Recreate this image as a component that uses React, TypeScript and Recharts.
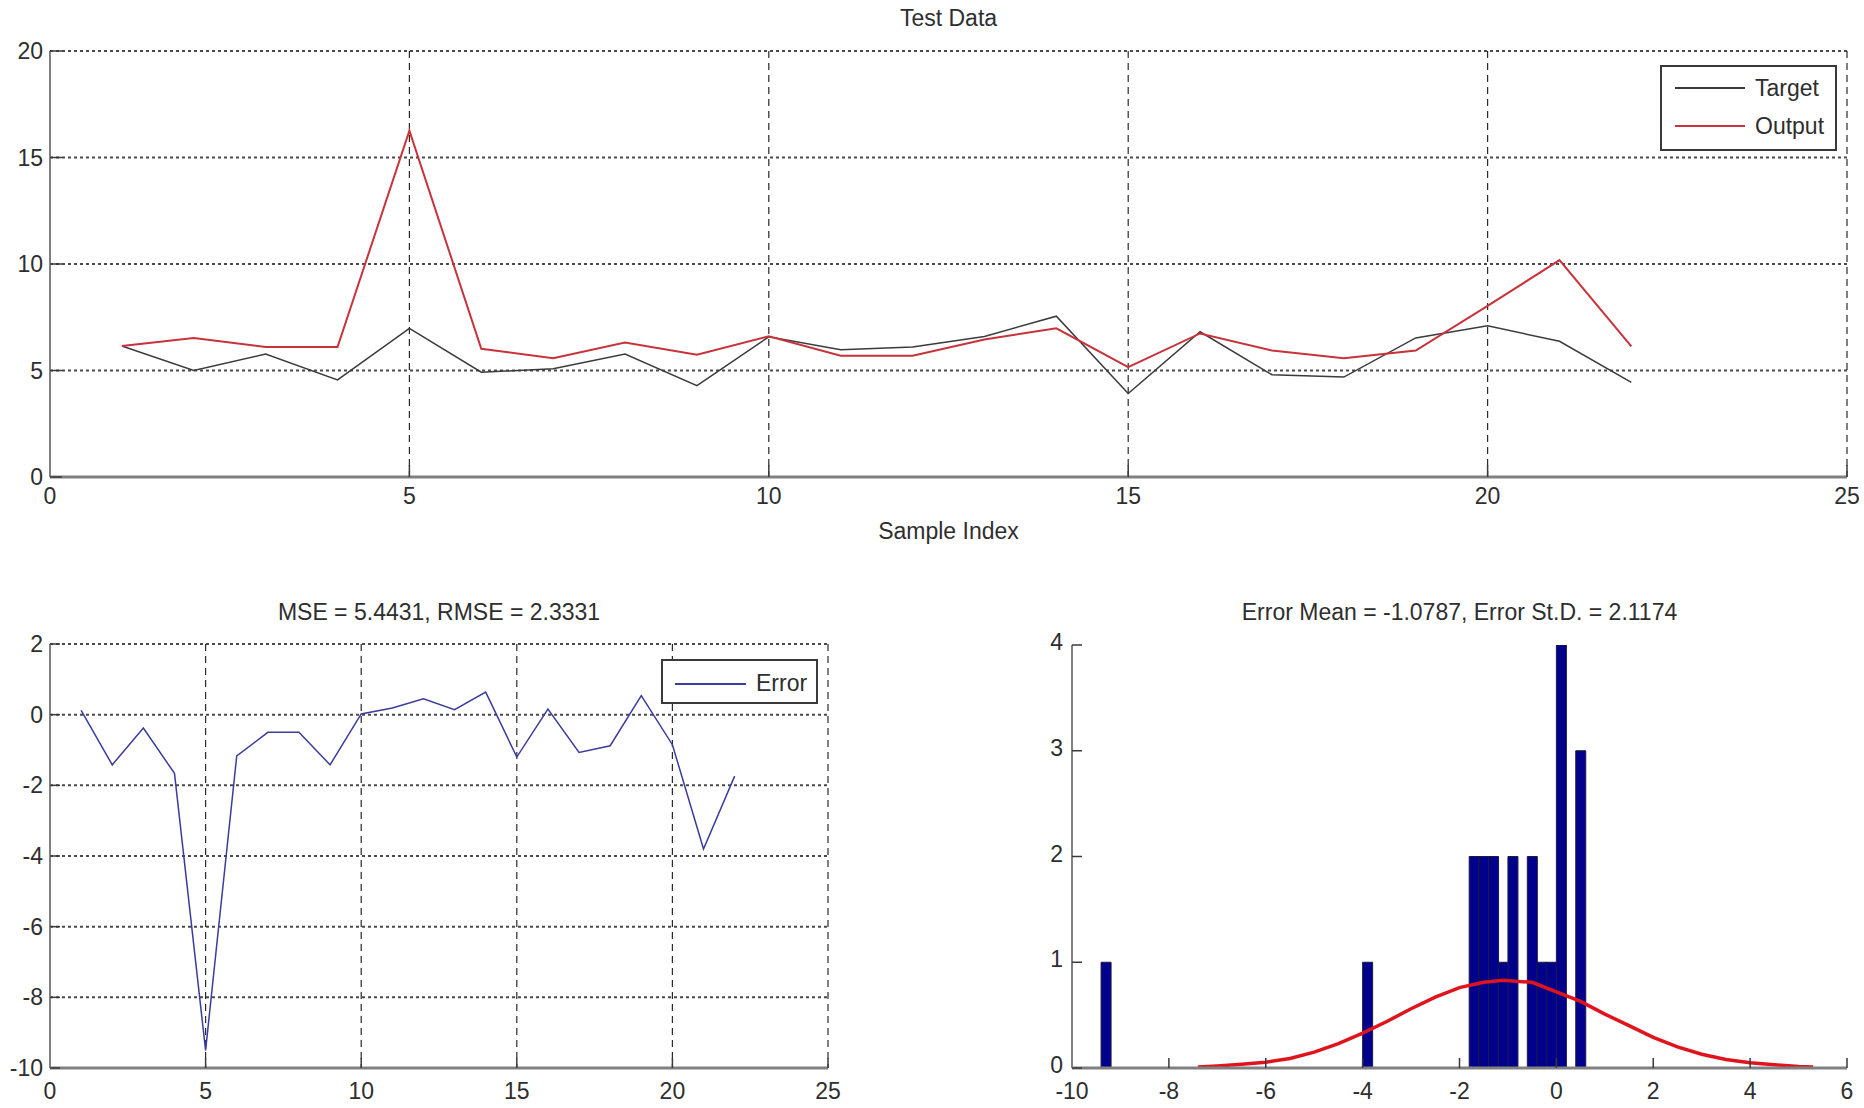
import React from 'react';
import {
  LineChart, Line, ComposedChart, Bar, XAxis, YAxis, CartesianGrid, Legend, Label,
} from 'recharts';

// ---- values ----
const sampleIndex = [1, 2, 3, 4, 5, 6, 7, 8, 9, 10, 11, 12, 13, 14, 15, 16, 17, 18, 19, 20, 21, 22];
const targetValues = [6.15, 5.0, 5.77, 4.56, 6.98, 4.92, 5.08, 5.77, 4.29, 6.58, 5.97, 6.1, 6.6, 7.55, 3.92, 6.82, 4.8, 4.69, 6.53, 7.1, 6.37, 4.44];
const outputValues = [6.15, 6.53, 6.1, 6.1, 16.26, 6.02, 5.58, 6.31, 5.74, 6.61, 5.69, 5.69, 6.46, 6.98, 5.16, 6.74, 5.94, 5.58, 5.94, 8.03, 10.18, 6.13];
const errorValues = [0.12, -1.42, -0.38, -1.66, -9.5, -1.17, -0.5, -0.5, -1.42, 0.02, 0.19, 0.45, 0.14, 0.64, -1.2, 0.16, -1.07, -0.88, 0.54, -0.85, -3.8, -1.74];

// histogram (50 bins)
const binCenters = [
  -9.3, -9.1, -8.9, -8.7, -8.5, -8.3, -8.1, -7.9, -7.7, -7.5,
  -7.3, -7.1, -6.9, -6.7, -6.5, -6.3, -6.1, -5.9, -5.7, -5.5,
  -5.3, -5.1, -4.9, -4.7, -4.5, -4.3, -4.1, -3.9, -3.7, -3.5,
  -3.3, -3.1, -2.9, -2.7, -2.5, -2.3, -2.1, -1.9, -1.7, -1.5,
  -1.3, -1.1, -0.9, -0.7, -0.5, -0.3, -0.1, 0.1, 0.3, 0.5,
];
const binCounts = [
  1, 0, 0, 0, 0, 0, 0, 0, 0, 0,
  0, 0, 0, 0, 0, 0, 0, 0, 0, 0,
  0, 0, 0, 0, 0, 0, 0, 1, 0, 0,
  0, 0, 0, 0, 0, 0, 0, 0, 2, 2,
  2, 1, 2, 0, 2, 1, 1, 4, 0, 3,
];

// fitted normal curve, read point by point
const fitX = [-7.4, -7, -6.5, -6, -5.5, -5, -4.5, -4, -3.5, -3, -2.5, -2, -1.5, -1.1, -0.5, 0, 0.5, 1, 1.5, 2, 2.5, 3, 3.5, 4, 4.5, 5, 5.3];
const fitY = [0.01, 0.02, 0.035, 0.055, 0.09, 0.15, 0.23, 0.33, 0.44, 0.56, 0.67, 0.76, 0.81, 0.83, 0.81, 0.72, 0.63, 0.51, 0.4, 0.29, 0.2, 0.13, 0.08, 0.05, 0.03, 0.015, 0.01];

const sampleTicks = [0, 5, 10, 15, 20, 25];
const testYTicks = [0, 5, 10, 15, 20];
const errorYTicks = [-10, -8, -6, -4, -2, 0, 2];
const histXTicks = [-10, -8, -6, -4, -2, 0, 2, 4, 6];
const histYTicks = [0, 1, 2, 3, 4];

const testData = sampleIndex.map((x, i) => ({ x, target: targetValues[i], output: outputValues[i] }));
const errorData = sampleIndex.map((x, i) => ({ x, error: errorValues[i] }));
const histData = binCenters.map((x, i) => ({ x, count: binCounts[i] }));
const fitData = fitX.map((x, i) => ({ x, pdf: fitY[i] }));

const FONT = "'Liberation Sans', Arial, Helvetica, sans-serif";
const TEXT = '#2e2e2e';
const FRAME = '#808080';
const TICK = '#3a3a3a';

const tickStyle = { fontSize: 23, fill: TEXT, fontFamily: FONT };
const frameLine = { stroke: FRAME, strokeWidth: 2 };

// MATLAB-like boxed legend, entries kept in plotting order
const boxLegend = (order: string[], lineStart: number, lineLen: number, rowH: number) => (props: any) => {
  const items = [...(props.payload || [])].sort((a: any, b: any) => order.indexOf(a.value) - order.indexOf(b.value));
  return (
    <div style={{
      width: '100%', height: '100%', boxSizing: 'border-box', border: '2px solid #3a3a3a',
      background: '#fff', paddingTop: 2, fontFamily: FONT, fontSize: 23, color: TEXT,
    }}>
      {items.map((item: any) => (
        <div key={item.value} style={{ display: 'flex', alignItems: 'center', height: rowH }}>
          <svg width={lineStart + lineLen} height={6} style={{ flex: 'none' }}>
            <line x1={lineStart} x2={lineStart + lineLen} y1={3} y2={3} stroke={item.color} strokeWidth={2} />
          </svg>
          <span style={{ marginLeft: 10 }}>{item.value}</span>
        </div>
      ))}
    </div>
  );
};

const Title = ({ text, left, width, top }: { text: string; left: number; width: number; top: number }) => (
  <div style={{
    position: 'absolute', left, width, top, textAlign: 'center', fontFamily: FONT,
    fontSize: 23, lineHeight: '26px', color: TEXT, whiteSpace: 'nowrap',
  }}>{text}</div>
);

export default function App() {
  return (
    <div style={{ position: 'absolute', left: 0, top: 0, width: 1864, height: 1108, background: '#fff', overflow: 'hidden' }}>
      <Title text="Test Data" left={50} width={1797} top={5} />
      <Title text="MSE = 5.4431, RMSE = 2.3331" left={50} width={778} top={599} />
      <Title text="Error Mean = -1.0787, Error St.D. = 2.1174" left={1072} width={775} top={599} />

      {/* top: target vs output */}
      <div style={{ position: 'absolute', left: 0, top: 0 }}>
        <LineChart width={1864} height={560} data={testData} margin={{ top: 51, right: 17, bottom: 0, left: 0 }}>
          <CartesianGrid vertical={false} stroke="#4a4a4a" strokeWidth={2} strokeDasharray="3 3" />
          <CartesianGrid horizontal={false} stroke="#2a2a2a" strokeWidth={1.2} strokeDasharray="7 5" />
          <XAxis dataKey="x" type="number" domain={[0, 25]} ticks={sampleTicks} height={83}
            axisLine={{ stroke: FRAME, strokeWidth: 3 }} tickLine={{ stroke: TICK, strokeWidth: 1.5 }}
            tickSize={-12} tickMargin={23} tick={tickStyle} interval={0}>
            <Label value="Sample Index" position="insideBottom" offset={21} fill={TEXT} fontSize={23} fontFamily={FONT} />
          </XAxis>
          <XAxis xAxisId="top" orientation="top" type="number" domain={[0, 25]} ticks={sampleTicks} height={0}
            allowDataOverflow axisLine={frameLine} tickLine={{ stroke: TICK, strokeWidth: 1.5 }} tickSize={-12} tick={false} />
          <YAxis type="number" domain={[0, 20]} ticks={testYTicks} width={50}
            axisLine={frameLine} tickLine={{ stroke: TICK, strokeWidth: 1.5 }}
            tickSize={-12} tickMargin={19} tick={tickStyle} interval={0} />
          <YAxis yAxisId="right" orientation="right" type="number" domain={[0, 20]} ticks={testYTicks} width={0}
            allowDataOverflow axisLine={frameLine} tickLine={{ stroke: TICK, strokeWidth: 1.5 }} tickSize={-12} tick={false} />
          <Line dataKey="target" name="Target" stroke="#3b3b3b" strokeWidth={1.5} dot={false} activeDot={false} isAnimationActive={false} />
          <Line dataKey="output" name="Output" stroke="#c8323a" strokeWidth={2} dot={false} activeDot={false} isAnimationActive={false} />
          <Legend layout="vertical" align="center" verticalAlign="middle"
            content={boxLegend(['Target', 'Output'], 13, 70, 38)}
            wrapperStyle={{ left: 1660, top: 65, width: 177, height: 86, right: 'auto', bottom: 'auto' }} />
        </LineChart>
      </div>

      {/* bottom left: error */}
      <div style={{ position: 'absolute', left: 0, top: 560 }}>
        <LineChart width={860} height={548} data={errorData} margin={{ top: 84, right: 32, bottom: 0, left: 0 }}>
          <CartesianGrid vertical={false} stroke="#4a4a4a" strokeWidth={2} strokeDasharray="3 3" />
          <CartesianGrid horizontal={false} stroke="#2a2a2a" strokeWidth={1.2} strokeDasharray="7 5" />
          <XAxis dataKey="x" type="number" domain={[0, 25]} ticks={sampleTicks} height={40}
            axisLine={{ stroke: FRAME, strokeWidth: 3 }} tickLine={{ stroke: TICK, strokeWidth: 1.5 }}
            tickSize={-10} tickMargin={25} tick={tickStyle} interval={0} />
          <XAxis xAxisId="top" orientation="top" type="number" domain={[0, 25]} ticks={sampleTicks} height={0}
            allowDataOverflow axisLine={frameLine} tickLine={{ stroke: TICK, strokeWidth: 1.5 }} tickSize={-10} tick={false} />
          <YAxis type="number" domain={[-10, 2]} ticks={errorYTicks} width={50}
            axisLine={frameLine} tickLine={{ stroke: TICK, strokeWidth: 1.5 }}
            tickSize={-10} tickMargin={17} tick={tickStyle} interval={0} />
          <YAxis yAxisId="right" orientation="right" type="number" domain={[-10, 2]} ticks={errorYTicks} width={0}
            allowDataOverflow axisLine={frameLine} tickLine={{ stroke: TICK, strokeWidth: 1.5 }} tickSize={-10} tick={false} />
          <Line dataKey="error" name="Error" stroke="#3c3c9c" strokeWidth={1.5} dot={false} activeDot={false} isAnimationActive={false} />
          <Legend layout="vertical" align="center" verticalAlign="middle"
            content={boxLegend(['Error'], 12, 71, 41)}
            wrapperStyle={{ left: 661, top: 99, width: 157, height: 45, right: 'auto', bottom: 'auto' }} />
        </LineChart>
      </div>

      {/* bottom right: histogram of errors; the fitted curve rides on the top x axis so it does not narrow the bins */}
      <div style={{ position: 'absolute', left: 1000, top: 560 }}>
        <ComposedChart width={864} height={548} data={histData} margin={{ top: 85, right: 17, bottom: 0, left: 0 }}
          barCategoryGap={0} barGap={0}>
          <XAxis dataKey="x" type="number" domain={[-10, 6]} ticks={histXTicks} height={40}
            allowDataOverflow axisLine={{ stroke: FRAME, strokeWidth: 3 }} tickLine={{ stroke: TICK, strokeWidth: 1.5 }}
            tickSize={-10} tickMargin={25} tick={tickStyle} interval={0} />
          <XAxis xAxisId="top" dataKey="x" orientation="top" type="number" domain={[-10, 6]} ticks={histXTicks} height={0}
            allowDataOverflow axisLine={frameLine} tickLine={{ stroke: TICK, strokeWidth: 1.5 }} tickSize={-10} tick={false} />
          <YAxis type="number" domain={[0, 4]} ticks={histYTicks} width={72}
            allowDataOverflow axisLine={frameLine} tickLine={{ stroke: TICK, strokeWidth: 1.5 }}
            tickSize={-10} tickMargin={19} tick={{ ...tickStyle, dy: -3 }} interval={0} />
          <YAxis yAxisId="right" orientation="right" type="number" domain={[0, 4]} ticks={histYTicks} width={0}
            allowDataOverflow axisLine={frameLine} tickLine={{ stroke: TICK, strokeWidth: 1.5 }} tickSize={-10} tick={false} />
          <Bar dataKey="count" fill="#00008c" stroke="#1b1b40" strokeWidth={1} isAnimationActive={false} />
          <Line xAxisId="top" data={fitData} dataKey="pdf" stroke="#e0141c" strokeWidth={3.5} dot={false} activeDot={false} isAnimationActive={false} />
        </ComposedChart>
      </div>
    </div>
  );
}
